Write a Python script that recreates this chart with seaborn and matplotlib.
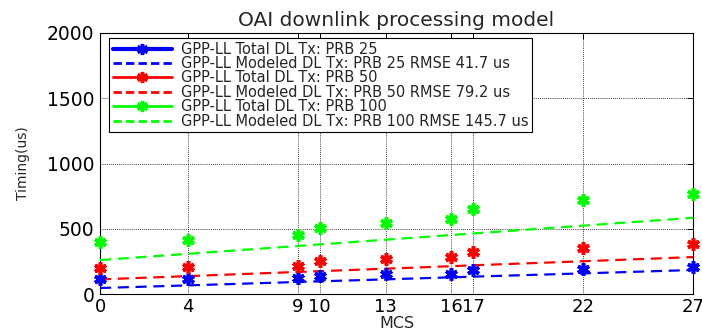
import matplotlib
matplotlib.use("Agg")
import matplotlib.pyplot as plt
from matplotlib.lines import Line2D
import seaborn as sns
import pandas as pd

# MCS indices measured
mcs = [0, 4, 9, 10, 13, 16, 17, 22, 27]

# Measured total DL Tx processing time (us)
total_prb25 = [112, 112, 125, 140, 156, 150, 184, 194, 209]
total_prb50 = [196, 209, 217, 253, 268, 286, 319, 352, 380]
total_prb100 = [400, 413, 449, 505, 541, 571, 653, 724, 765]

# Modeled DL Tx processing time (us)
model_prb25 = [46, 66, 92, 97, 112, 128, 133, 158, 184]
model_prb50 = [112, 137, 169, 175, 194, 213, 220, 251, 283]
model_prb100 = [260, 308, 368, 380, 416, 452, 464, 524, 584]

rmse = {"25": 41.7, "50": 79.2, "100": 145.7}
colors = {"25": "#0000ff", "50": "#ff0000", "100": "#00ff00"}

sns.set_style("white")
plt.rcParams["font.family"] = ["DejaVu Sans"]

fig = plt.figure(figsize=(7.02, 3.29), dpi=100)
ax = fig.add_axes([100 / 702, 1 - 294 / 329, 593 / 702, 261 / 329])

asterisk = (6, 2, 0)
series = [
    ("25", total_prb25, model_prb25),
    ("50", total_prb50, model_prb50),
    ("100", total_prb100, model_prb100),
]

handles = []
labels = []
for prb, tot, mod in series:
    c = colors[prb]
    df = pd.DataFrame({"MCS": mcs, "total": tot, "model": mod})
    sns.lineplot(data=df, x="MCS", y="model", ax=ax, color=c,
                 linestyle=(0, (5, 3)), linewidth=1.6, zorder=3)
    sns.lineplot(data=df, x="MCS", y="total", ax=ax, color=c,
                 linestyle="none", marker=asterisk, markersize=9,
                 markeredgewidth=2.6, markeredgecolor=c, zorder=4,
                 clip_on=False)
    handles.append(Line2D([], [], color=c, linewidth=3 if prb == "25" else 2,
                          marker=asterisk, markersize=8, markeredgewidth=2.5))
    labels.append(f"GPP-LL Total DL Tx: PRB {prb}")
    handles.append(Line2D([], [], color=c, linewidth=2, linestyle=(0, (3, 1.5))))
    labels.append(f"GPP-LL Modeled DL Tx: PRB {prb} RMSE {rmse[prb]} us")

ax.set_xlim(0, 27)
ax.set_ylim(0, 2000)
ax.set_xticks(mcs)
ax.set_xticklabels([str(v) for v in mcs])
ax.set_yticks([0, 500, 1000, 1500, 2000])

ax.grid(True, color="black", linestyle=(0, (1, 1.5)), linewidth=0.6)
ax.tick_params(direction="in", length=4, width=0.7, colors="black",
               labelsize=13.5, top=True, right=True, pad=4)
ax.tick_params(axis="x", labelsize=13, pad=3)
for s in ax.spines.values():
    s.set_color("black")
    s.set_linewidth(0.8)

ax.set_title("OAI downlink processing model", fontsize=14.5, pad=5)
ax.set_xlabel("MCS", fontsize=11.5, labelpad=0)
ax.set_ylabel("Timing(us)", fontsize=10, labelpad=12)

leg = ax.legend(handles, labels, loc="upper left", bbox_to_anchor=(0.015, 0.981),
                borderaxespad=0, fontsize=10.5, handlelength=4.1, handletextpad=0.6,
                labelspacing=-0.04, borderpad=0.25, frameon=True,
                fancybox=False, framealpha=1)
leg.get_frame().set_edgecolor("black")
leg.get_frame().set_linewidth(0.8)

fig.savefig("out.png", dpi=100)
